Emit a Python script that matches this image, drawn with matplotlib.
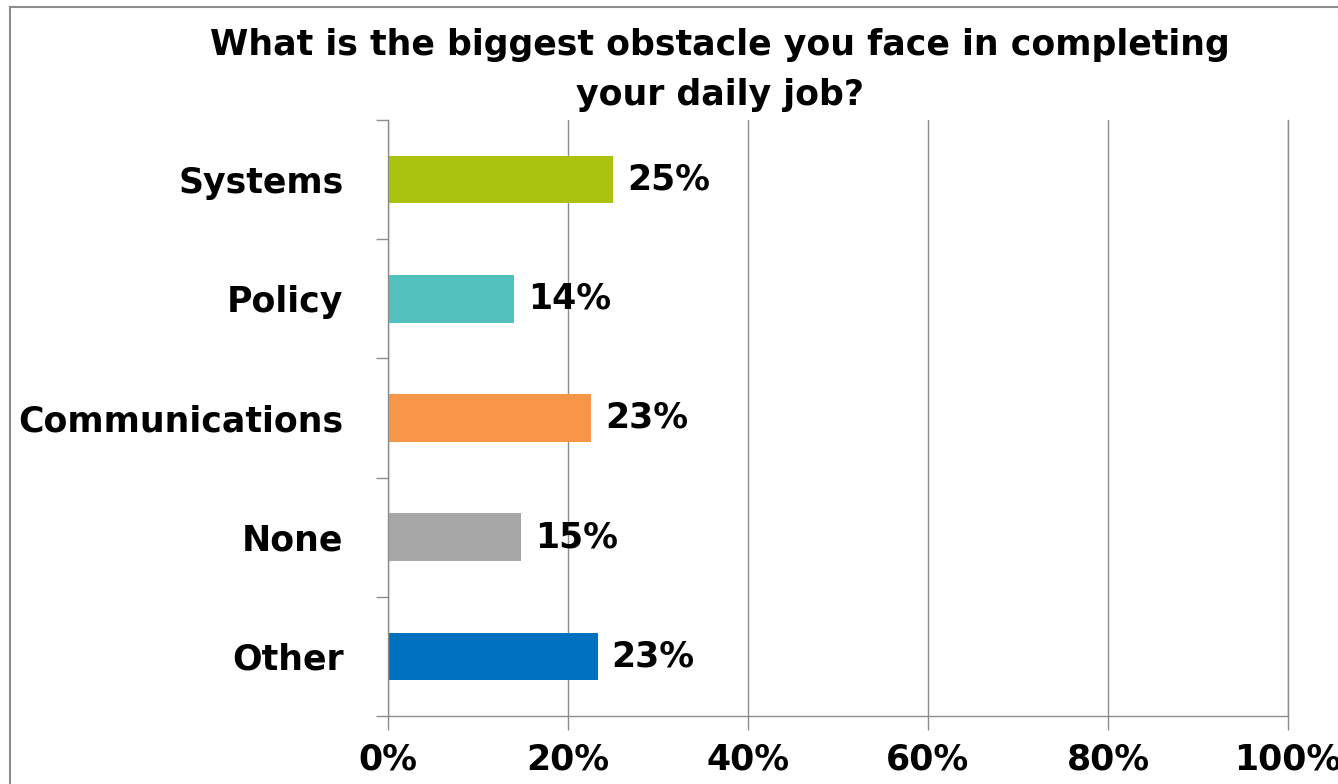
import matplotlib
matplotlib.use("Agg")
import matplotlib.pyplot as plt
from matplotlib.lines import Line2D
from matplotlib.ticker import FixedLocator, PercentFormatter

plt.rcParams.update({
    "font.family": ["DejaVu Sans"],
    "font.weight": "bold",
})

categories = ["Systems", "Policy", "Communications", "None", "Other"]
shares = [25.0, 14.0, 22.6, 14.8, 23.3]
bar_colors = ["#a9c30f", "#52c0bc", "#f79646", "#a6a6a6", "#0070c0"]
title = "What is the biggest obstacle you face in completing\nyour daily job?"

W, H = 1338, 784
FS = 25
fig = plt.figure(figsize=(W / 100, H / 100), dpi=100)
fig.patch.set_facecolor("white")

# chart frame (top and left edges visible)
frame = "#8c8c8c"
fig.add_artist(Line2D([10 / W, 1], [1 - 7 / H, 1 - 7 / H], color=frame, lw=1.5,
                      transform=fig.transFigure))
fig.add_artist(Line2D([10 / W, 10 / W], [0, 1 - 7 / H], color=frame, lw=1.5,
                      transform=fig.transFigure))

ax = fig.add_axes([388 / W, 1 - 716 / H, 900 / W, 596 / H])

y = list(range(len(categories)))
ax.barh(y, shares, height=0.4, color=bar_colors, zorder=3)

for yi, v in zip(y, shares):
    ax.annotate(f"{v:.0f}%", (v, yi), xytext=(10, 0), textcoords="offset points",
                ha="left", va="center", fontsize=FS, fontweight="bold")

ax.set_xlim(0, 100)
ax.set_ylim(len(categories) - 0.5, -0.5)

ax.set_xticks(range(0, 101, 20))
ax.xaxis.set_major_formatter(PercentFormatter(decimals=0))
ax.tick_params(axis="x", length=10, width=1, color=frame, pad=9, labelsize=FS)

ax.set_yticks(y)
ax.set_yticklabels(categories)
ax.yaxis.set_minor_locator(FixedLocator([i - 0.5 for i in range(len(categories) + 1)]))
ax.tick_params(axis="y", which="major", length=0, pad=32, labelsize=FS)
ax.tick_params(axis="y", which="minor", length=9, width=1, color=frame)

ax.grid(axis="x", color=frame, lw=1, zorder=0)
ax.spines["top"].set_visible(False)
for s in ("left", "bottom", "right"):
    ax.spines[s].set_color(frame)
    ax.spines[s].set_linewidth(1)
    ax.spines[s].set_zorder(4)

fig.text(720 / W, 1 - 70 / H, title, ha="center", va="center", fontsize=FS,
         fontweight="bold", linespacing=1.6)

fig.savefig("out.png", dpi=100)
